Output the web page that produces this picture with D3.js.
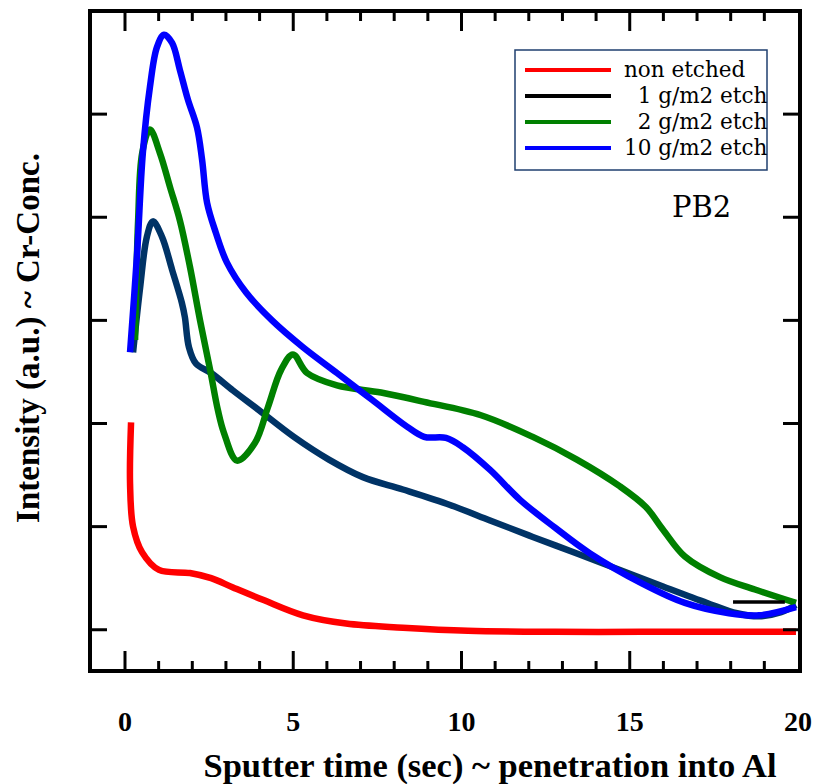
<!DOCTYPE html>
<html>
<head>
<meta charset="utf-8">
<script src="https://cdn.jsdelivr.net/npm/d3@7"></script>
<style>
  body { margin: 0; background: #fff; }
  text { font-family: "Liberation Serif", "Times New Roman", serif; }
</style>
</head>
<body>
<svg id="chart"></svg>
<script>
// values: [sputter time (sec), intensity (a.u.)]
var nonEtched = [[0.18,2.01],[0.15,1.42],[0.24,1.00],[0.51,0.75],[1.01,0.58],[1.93,0.55],[2.56,0.50],
    [3.21,0.41],[4.10,0.29],[5.29,0.14],[6.57,0.06],[8.26,0.02],[10.19,-0.01],[12.78,-0.02],
    [15.36,-0.02],[17.95,-0.02],[19.94,-0.02]];
var etch1 = [[0.24,2.69],[0.45,3.32],[0.65,3.81],[0.83,3.96],[1.10,3.81],[1.40,3.49],[1.69,3.17],
    [1.78,3.03],[1.90,2.74],[2.11,2.58],[2.56,2.49],[3.21,2.32],[3.98,2.13],[5.02,1.87],[6.06,1.65],
    [7.07,1.48],[8.26,1.36],[9.66,1.21],[10.85,1.06],[12.12,0.90],[13.43,0.74],[14.71,0.58],
    [15.99,0.42],[17.30,0.26],[18.19,0.16],[18.84,0.13],[19.50,0.17],[19.94,0.24]];
var etch1Dash = [[18.07,0.27],[19.61,0.27]];
var etch2 = [[0.30,2.81],[0.39,3.97],[0.51,4.62],[0.74,4.85],[1.04,4.62],[1.34,4.29],[1.63,3.97],
    [1.93,3.52],[2.23,3.00],[2.53,2.52],[2.76,2.13],[2.94,1.91],[3.33,1.64],[3.86,1.81],[4.25,2.16],
    [4.64,2.52],[4.99,2.67],[5.41,2.49],[6.30,2.37],[7.61,2.30],[8.89,2.21],[10.58,2.08],[12.12,1.87],
    [13.43,1.65],[14.71,1.39],[15.48,1.19],[15.99,0.97],[16.64,0.71],[17.68,0.51],[18.72,0.39],[19.94,0.26]];
var etch10 = [[0.15,2.69],[0.36,3.65],[0.53,4.62],[0.74,5.26],[0.95,5.65],[1.16,5.77],[1.40,5.69],
    [1.63,5.43],[1.87,5.14],[2.14,4.87],[2.29,4.56],[2.44,4.14],[2.70,3.85],[3.03,3.56],[3.60,3.27],
    [4.37,3.00],[5.29,2.74],[6.30,2.49],[7.34,2.23],[8.38,1.97],[8.89,1.87],[9.54,1.86],[10.04,1.77],
    [10.85,1.55],[11.74,1.26],[12.78,0.99],[13.82,0.74],[15.36,0.45],[16.64,0.26],[17.95,0.16],
    [18.84,0.14],[19.94,0.22]];

var xMajorTicks = [0, 5, 10, 15, 20];
var xMinorTicks = [1,2,3,4,6,7,8,9,11,12,13,14,16,17,18,19];
var yTicks = [0, 1, 2, 3, 4, 5];
var legendLabels = ["non etched", "  1 g/m2 etch", "  2 g/m2 etch", "10 g/m2 etch"];
var legendColors = ["#ff0000", "#000000", "#008000", "#0000ff"];

var width = 819, height = 784;
var plotLeft = 90, plotRight = 800, plotTop = 11, plotBottom = 671;

var svg = d3.select("#chart")
    .attr("width", width)
    .attr("height", height);

var x = d3.scaleLinear().domain([-1.04, 20.06]).range([plotLeft, plotRight]);
var y = d3.scaleLinear().domain([-0.4, 6]).range([plotBottom, plotTop]);

var line = d3.line()
    .x(function (d) { return x(d[0]); })
    .y(function (d) { return y(d[1]); })
    .curve(d3.curveCatmullRom.alpha(0.5));

// curves
var series = [
    { data: nonEtched, color: "#ff0000" },
    { data: etch1, color: "#003366" },
    { data: etch2, color: "#008000" },
    { data: etch10, color: "#0000ff" }
];
svg.selectAll("path.curve")
    .data(series)
    .enter().append("path")
    .attr("class", "curve")
    .attr("d", function (d) { return line(d.data); })
    .style("fill", "none")
    .style("stroke", function (d) { return d.color; })
    .style("stroke-width", 6.5)
    .style("stroke-linejoin", "round");

svg.append("path")
    .attr("d", d3.line().x(function (d) { return x(d[0]); }).y(function (d) { return y(d[1]); })(etch1Dash))
    .style("stroke", "#000")
    .style("stroke-width", 3.5);

// frame
svg.append("rect")
    .attr("x", plotLeft).attr("y", plotTop)
    .attr("width", plotRight - plotLeft).attr("height", plotBottom - plotTop)
    .style("fill", "none")
    .style("stroke", "#000")
    .style("stroke-width", 4);

// ticks, mirrored on opposite sides
var ticks = svg.append("g").style("stroke", "#000").style("stroke-width", 3);
function xTick(list, len) {
    ticks.selectAll(null).data(list).enter().append("line")
        .attr("x1", function (d) { return x(d); }).attr("x2", function (d) { return x(d); })
        .attr("y1", plotBottom).attr("y2", plotBottom - len);
    ticks.selectAll(null).data(list).enter().append("line")
        .attr("x1", function (d) { return x(d); }).attr("x2", function (d) { return x(d); })
        .attr("y1", plotTop).attr("y2", plotTop + len);
}
xTick(xMajorTicks.filter(function (d) { return d < 20; }), 20);
xTick(xMinorTicks, 10);

ticks.selectAll(null).data(yTicks).enter().append("line")
    .attr("x1", plotLeft).attr("x2", plotLeft + 17)
    .attr("y1", function (d) { return y(d); }).attr("y2", function (d) { return y(d); });
ticks.selectAll(null).data(yTicks).enter().append("line")
    .attr("x1", plotRight).attr("x2", plotRight - 17)
    .attr("y1", function (d) { return y(d); }).attr("y2", function (d) { return y(d); });

svg.selectAll("text.xlab")
    .data(xMajorTicks)
    .enter().append("text")
    .attr("class", "xlab")
    .attr("x", function (d) { return x(d); })
    .attr("y", 731)
    .attr("text-anchor", "middle")
    .style("font-size", "28px")
    .style("font-weight", "bold")
    .text(function (d) { return d; });

// axis titles
svg.append("text")
    .attr("x", 490).attr("y", 777)
    .attr("text-anchor", "middle")
    .style("font-size", "34.5px")
    .style("font-weight", "bold")
    .text("Sputter time (sec) ~ penetration into Al");

svg.append("text")
    .attr("transform", "translate(39,338) rotate(-90)")
    .attr("text-anchor", "middle")
    .style("font-size", "33px")
    .style("font-weight", "bold")
    .text("Intensity (a.u.) ~ Cr-Conc.");

svg.append("text")
    .attr("x", 672).attr("y", 217)
    .style("font-family", "'DejaVu Serif', serif")
    .style("font-size", "29px")
    .text("PB2");

// legend
var legend = svg.append("g");
legend.append("rect")
    .attr("x", 515).attr("y", 50)
    .attr("width", 252).attr("height", 120)
    .style("fill", "#fff")
    .style("stroke", "#1f3f6f")
    .style("stroke-width", 1.5);

var rows = legend.selectAll("g.row")
    .data(legendLabels)
    .enter().append("g")
    .attr("class", "row")
    .attr("transform", function (d, i) { return "translate(0," + (70 + i * 26) + ")"; });
rows.append("line")
    .attr("x1", 525).attr("x2", 611)
    .style("stroke", function (d, i) { return legendColors[i]; })
    .style("stroke-width", 4);
rows.append("text")
    .attr("x", 624).attr("y", 7)
    .style("font-family", "'DejaVu Serif', serif")
    .style("font-size", "21.5px")
    .style("white-space", "pre")
    .text(function (d) { return d; });
</script>
</body>
</html>
